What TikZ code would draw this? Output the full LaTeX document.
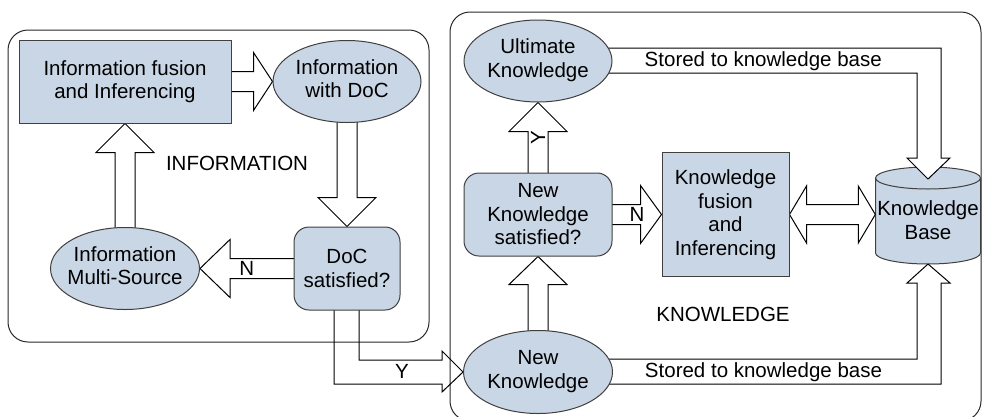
\documentclass[tikz,border=0pt]{standalone}
\usepackage{fontspec}
\setmainfont{Liberation Sans}
\usetikzlibrary{calc,shapes.geometric}
\pgfdeclarelayer{back}
\pgfdeclarelayer{arrows}
\pgfsetlayers{back,arrows,main}
\definecolor{nodefill}{RGB}{201,214,229}
\definecolor{nodeline}{RGB}{64,64,64}
\definecolor{frameline}{RGB}{40,40,40}
\tikzset{
  every node/.style={font=\fontsize{20.5}{23.5}\selectfont, align=center, inner sep=0pt},
  boxnode/.style={draw=nodeline, fill=nodefill, line width=1pt, rectangle},
  roundnode/.style={boxnode, rounded corners=15pt},
  ellnode/.style={draw=nodeline, fill=nodefill, line width=1pt, ellipse},
  blk/.style={draw=black, line width=1pt, fill=white, line join=miter},
  blkopen/.style={draw=black, line width=1pt, line join=miter},
  container/.style={draw=frameline, line width=1pt, rounded corners=20pt},
  cyl/.style={draw=nodeline, fill=nodefill, line width=1pt}
}
\newcommand{\tx}[1]{\makebox[0pt]{\begin{tabular}{@{}c@{}}#1\end{tabular}}}
\newcommand{\blkarrow}[3]{%
  \draw[blk] ($(#1)!10pt!90:(#2)$) -- ($(#2)!#3!(#1)!10pt!-90:(#1)$)
    -- ($(#2)!#3!(#1)!29pt!-90:(#1)$) -- (#2)
    -- ($(#2)!#3!(#1)!29pt!90:(#1)$) -- ($(#2)!#3!(#1)!10pt!90:(#1)$)
    -- ($(#1)!10pt!-90:(#2)$);}
\begin{document}
\begin{tikzpicture}[x=1pt,y=-1pt]
\useasboundingbox (0,0) rectangle (982,416);

% nodes
\node[boxnode, minimum width=212pt, minimum height=83pt] (ifr) at (125,81.5) {Information fusion\\and Inferencing};
\node[ellnode, minimum width=148pt, minimum height=82pt] (iwd) at (347,81.5) {\tx{Information\\with DoC}};
\node[roundnode, minimum width=106pt, minimum height=83pt] (doc) at (347,268.5) {DoC\\satisfied?};
\node[ellnode, minimum width=149pt, minimum height=82pt] (ims) at (125,268.5) {\tx{Information\\Multi-Source}};
\node (infolbl) at (237,163) {INFORMATION};

\node[ellnode, minimum width=148pt, minimum height=82pt] (uk) at (538,61) {\tx{Ultimate\\Knowledge}};
\node[roundnode, minimum width=148pt, minimum height=83pt] (nks) at (538,214.5) {New\\Knowledge\\satisfied?};
\node[ellnode, minimum width=149pt, minimum height=83pt] (nk) at (538,372) {\tx{New\\Knowledge}};
\node[boxnode, minimum width=127pt, minimum height=124pt] (kfi) at (725.5,214.5) {Knowledge\\fusion\\and\\Inferencing};
\node[minimum width=105pt] (kb) at (928,220) {Knowledge\\Base};
\node (knowlbl) at (723,314) {KNOWLEDGE};

\coordinate (kbtop) at ($(kb.center)+(0,-41)$);
\coordinate (kbbot) at ($(kb.center)+(0,44)$);
\coordinate (K1) at (kbtop |- uk.center);
\coordinate (K2) at (kbbot |- nk.center);
\coordinate (K) at (doc.center |- nk.west);
\coordinate (kbw) at (kb.west |- kfi.east);

% labels on connectors
\node (lblN1) at ($(doc.west)!0.5!(ims.east)$) {N};
\node (lblY1) at ($(K)!0.5!(nk.west)+(-3,-1)$) {Y};
\node[rotate=90] (lblY2) at ($(nks.north)!0.5!(uk.south)$) {Y};
\node (lblN2) at ($(nks.east)!0.5!(kfi.west)$) {N};
\node (st1) at ($(uk.east)!0.5!(K1)+(-7,0)$) {Stored to knowledge base};
\node (st2) at ($(nk.east)!0.5!(K2)+(-7,0)$) {Stored to knowledge base};

% containers and cylinder
\begin{pgfonlayer}{back}
  \draw[container] (8,30) rectangle (429,342);
  \draw[container] (450,12) rectangle (981,421);
  \path[cyl] ($(kb.center)+(-52.5,-42)$) -- ($(kb.center)+(-52.5,33)$)
     arc[start angle=180,end angle=360,x radius=52.5pt,y radius=11pt]
     -- ($(kb.center)+(52.5,-42)$)
     arc[start angle=0,end angle=180,x radius=52.5pt,y radius=11pt] -- cycle;
  \draw[draw=nodeline, line width=1pt] ($(kb.center)+(-52.5,-42)$)
     arc[start angle=180,end angle=360,x radius=52.5pt,y radius=11pt];
\end{pgfonlayer}

% block arrows
\begin{pgfonlayer}{arrows}
  \blkarrow{ifr.center}{iwd.west}{19pt}
  \blkarrow{iwd.center}{doc.north}{29pt}
  \blkarrow{doc.center}{ims.east}{30pt}
  \blkarrow{ims.center}{ifr.south}{29pt}
  \blkarrow{nk.center}{nks.south}{28pt}
  \blkarrow{nks.center}{uk.south}{29pt}
  \blkarrow{nks.center}{kfi.west}{21pt}
  % double arrow
  \draw[blk] (kfi.east) -- ($(kfi.east)+(17,-28.5)$) -- ($(kfi.east)+(17,-10)$)
     -- ($(kbw)+(-17,-10)$) -- ($(kbw)+(-17,-28.5)$) -- (kbw)
     -- ($(kbw)+(-17,28.5)$) -- ($(kbw)+(-17,10)$)
     -- ($(kfi.east)+(17,10)$) -- ($(kfi.east)+(17,28.5)$) -- cycle;
  % Y bent arrow
  \draw[blkopen] ($(doc.center)+(-13,0)$) -- ($(K)+(-13,12)$) -- ($(nk.west)+(-21,12)$)
     -- ($(nk.west)+(-21,20)$) -- (nk.west) -- ($(nk.west)+(-21,-21)$)
     -- ($(nk.west)+(-21,-12)$) -- ($(K)+(12,-12)$) -- ($(doc.center)+(12,0)$);
  % stored (top)
  \draw[blk] ($(uk.center)+(0,-13)$) -- ($(K1)+(13,-13)$) -- ($(kbtop)+(13,-21)$)
     -- ($(kbtop)+(22,-21)$) -- (kbtop) -- ($(kbtop)+(-21,-21)$)
     -- ($(kbtop)+(-11,-21)$) -- ($(K1)+(-11,12)$) -- ($(uk.center)+(0,12)$);
  % stored (bottom)
  \draw[blk] ($(nk.center)+(0,-13)$) -- ($(K2)+(-11,-13)$) -- ($(kbbot)+(-11,19)$)
     -- ($(kbbot)+(-21,19)$) -- (kbbot) -- ($(kbbot)+(22,19)$)
     -- ($(kbbot)+(13,19)$) -- ($(K2)+(13,12)$) -- ($(nk.center)+(0,12)$);
\end{pgfonlayer}
\end{tikzpicture}
\end{document}
